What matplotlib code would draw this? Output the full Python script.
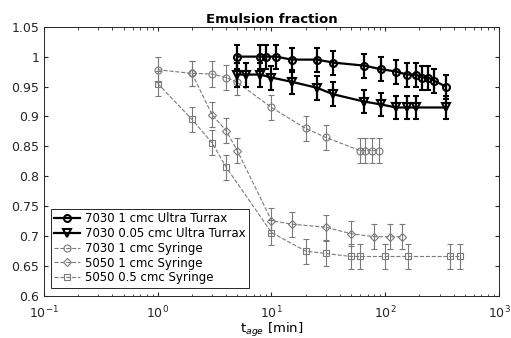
import matplotlib
matplotlib.use("Agg")
import matplotlib.pyplot as plt
from matplotlib.lines import Line2D
import numpy as np

# 7030 1 cmc Ultra Turrax
x_ut1 = [5, 8, 9, 11, 15, 25, 35, 65, 92, 125, 155, 185, 212, 238, 268, 340]
y_ut1 = [1.0, 1.0, 1.0, 1.0, 0.995, 0.995, 0.99, 0.985, 0.979, 0.975, 0.97, 0.97, 0.965, 0.965, 0.96, 0.95]
e_ut1 = [0.02] * len(x_ut1)

# 7030 0.05 cmc Ultra Turrax
x_ut2 = [5, 6, 8, 10, 15, 25, 35, 65, 92, 125, 155, 185, 340]
y_ut2 = [0.97, 0.97, 0.97, 0.965, 0.958, 0.948, 0.937, 0.925, 0.92, 0.915, 0.915, 0.915, 0.915]
e_ut2 = [0.02] * len(x_ut2)

# 7030 1 cmc Syringe
x_s1 = [1, 2, 3, 4, 5, 10, 20, 30, 60, 66, 77, 88]
y_s1 = [0.978, 0.972, 0.971, 0.965, 0.957, 0.915, 0.88, 0.865, 0.843, 0.843, 0.843, 0.843]
e_s1 = [0.021] * len(x_s1)

# 5050 1 cmc Syringe
x_s2 = [2, 3, 4, 5, 10, 15, 30, 50, 80, 110, 140]
y_s2 = [0.972, 0.903, 0.876, 0.843, 0.726, 0.72, 0.715, 0.704, 0.699, 0.699, 0.699]
e_s2 = [0.021] * len(x_s2)

# 5050 0.5 cmc Syringe
x_s3 = [1, 2, 3, 4, 10, 20, 30, 50, 60, 100, 160, 370, 450]
y_s3 = [0.955, 0.895, 0.856, 0.815, 0.706, 0.675, 0.671, 0.666, 0.666, 0.666, 0.666, 0.666, 0.666]
e_s3 = [0.021] * len(x_s3)

labels = ["7030 1 cmc Ultra Turrax", "7030 0.05 cmc Ultra Turrax",
          "7030 1 cmc Syringe", "5050 1 cmc Syringe", "5050 0.5 cmc Syringe"]

fig = plt.figure(figsize=(5.11, 3.38), dpi=100)
ax = fig.add_axes([0.0861, 0.1243, 0.8904, 0.7967])
gray = "#7a7a7a"

styles = [
    dict(color="black", lw=1.6, ls="-", marker="o", ms=5, mew=1.5),
    dict(color="black", lw=1.6, ls="-", marker="v", ms=5.5, mew=1.5),
    dict(color=gray, lw=0.8, ls="--", marker="o", ms=5, mew=0.8),
    dict(color=gray, lw=0.8, ls="--", marker="D", ms=4.5, mew=0.8),
    dict(color=gray, lw=0.8, ls="--", marker="s", ms=4.5, mew=0.8),
]
data = [(x_ut1, y_ut1, e_ut1), (x_ut2, y_ut2, e_ut2), (x_s1, y_s1, e_s1),
        (x_s2, y_s2, e_s2), (x_s3, y_s3, e_s3)]

handles = []
for i, ((x, y, e), st) in enumerate(zip(data, styles)):
    thick = i < 2
    ax.errorbar(x, y, yerr=e, color=st["color"], lw=st["lw"], ls=st["ls"],
                marker=st["marker"], ms=st["ms"], mfc="none", mew=st["mew"],
                capsize=2.5, elinewidth=st["lw"], capthick=st["lw"],
                zorder=5 if thick else 3)
    handles.append(Line2D([], [], color=st["color"], lw=st["lw"], ls=st["ls"],
                          marker=st["marker"], ms=st["ms"], mfc="none", mew=st["mew"]))

ax.set_xscale("log")
ax.set_xlim(0.1, 1000)
ax.set_ylim(0.6, 1.05)
ax.set_yticks(np.arange(0.6, 1.0501, 0.05))
ax.set_yticklabels(["0.6", "0.65", "0.7", "0.75", "0.8", "0.85", "0.9", "0.95", "1", "1.05"])
ax.tick_params(which="both", direction="in", top=True, right=True, labelsize=9, colors="#262626")
ax.tick_params(axis="x", pad=6)
ax.tick_params(which="major", length=3)
ax.tick_params(which="minor", length=1.8)
for s in ax.spines.values():
    s.set_color("#262626")
    s.set_linewidth(0.7)

ax.set_title("Emulsion fraction", fontsize=9.5, fontweight="bold", pad=3)
ax.set_xlabel("t$_{age}$ [min]", fontsize=9.5, labelpad=0)

leg = ax.legend(handles, labels, loc="lower left", bbox_to_anchor=(0.015, 0.03), fontsize=8.5,
                frameon=True, fancybox=False, edgecolor="#262626", handlelength=2.2,
                handletextpad=0.4, borderpad=0.3, labelspacing=0.15, borderaxespad=0,
                framealpha=1)
leg.get_frame().set_linewidth(0.7)

fig.savefig("out.png", dpi=100)
